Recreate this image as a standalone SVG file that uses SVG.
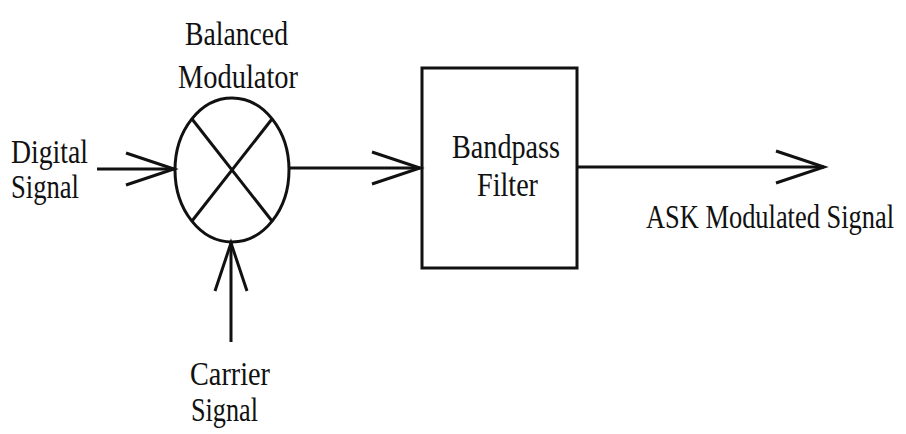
<svg xmlns="http://www.w3.org/2000/svg" width="906" height="434" viewBox="0 0 906 434">
<style>
.ln{stroke:#111;stroke-width:3;fill:none}
.t{font-family:"Liberation Serif","Times New Roman",serif;font-size:34px;fill:#111}
</style>
<defs>
<marker id="arr" markerUnits="userSpaceOnUse" viewBox="-55 -20 60 40" markerWidth="60" markerHeight="40" refX="0" refY="0" orient="auto" overflow="visible">
<path d="M-48,-16 L0,0 L-48,16" fill="none" stroke="#111" stroke-width="3"/>
</marker>
</defs>
<rect width="906" height="434" fill="#fff"/>
<g id="connectors">
<line class="ln" x1="97" y1="169" x2="174" y2="169" marker-end="url(#arr)"/>
<line class="ln" x1="231" y1="342" x2="231" y2="243" marker-end="url(#arr)"/>
<line class="ln" x1="289" y1="168" x2="420" y2="168" marker-end="url(#arr)"/>
<line class="ln" x1="577" y1="167" x2="824" y2="167" marker-end="url(#arr)"/>
</g>
<g id="modulator">
<ellipse class="ln" cx="232" cy="170" rx="57" ry="72"/>
<line class="ln" x1="192" y1="119" x2="272" y2="221"/>
<line class="ln" x1="272" y1="119" x2="192" y2="221"/>
<text class="t" transform="translate(185,45) scale(0.8,1)" textLength="128.75" lengthAdjust="spacingAndGlyphs">Balanced</text>
<text class="t" transform="translate(178,88) scale(0.8,1)" textLength="150" lengthAdjust="spacingAndGlyphs">Modulator</text>
</g>
<g id="digital">
<text class="t" transform="translate(11,163) scale(0.8,1)" textLength="96.25" lengthAdjust="spacingAndGlyphs">Digital</text>
<text class="t" transform="translate(11,198) scale(0.8,1)" textLength="85" lengthAdjust="spacingAndGlyphs">Signal</text>
</g>
<g id="carrier">
<text class="t" transform="translate(190,385) scale(0.8,1)" textLength="100" lengthAdjust="spacingAndGlyphs">Carrier</text>
<text class="t" transform="translate(191,421) scale(0.8,1)" textLength="83.75" lengthAdjust="spacingAndGlyphs">Signal</text>
</g>
<g id="filter">
<rect class="ln" x="422" y="68" width="155" height="200"/>
<text class="t" transform="translate(452,158) scale(0.8,1)" textLength="135" lengthAdjust="spacingAndGlyphs">Bandpass</text>
<text class="t" transform="translate(477,196) scale(0.8,1)" textLength="76.25" lengthAdjust="spacingAndGlyphs">Filter</text>
</g>
<g id="output">
<text class="t" transform="translate(646,228) scale(0.8,1)" textLength="310" lengthAdjust="spacingAndGlyphs">ASK Modulated Signal</text>
</g>
</svg>
